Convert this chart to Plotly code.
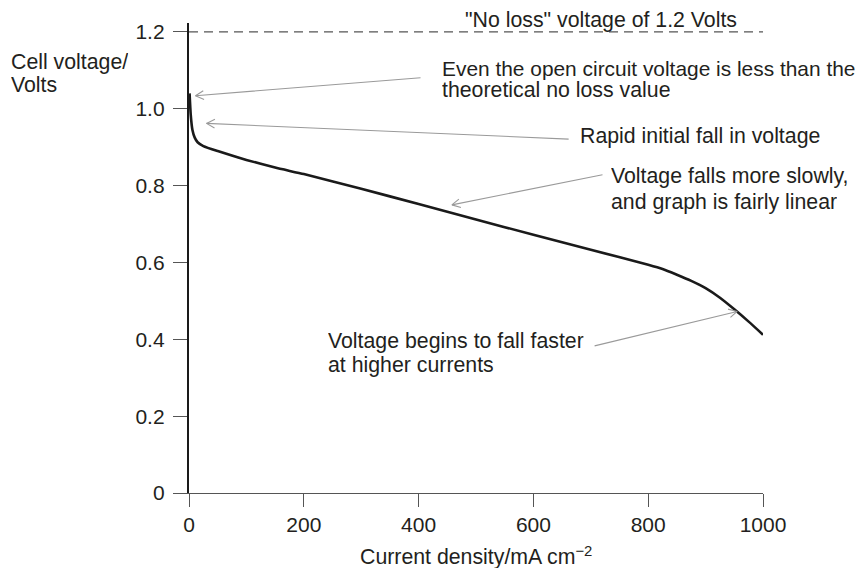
import math
import plotly.graph_objects as go

# ---------------- data ----------------
current_density = [1, 3, 6, 10, 15, 25, 50, 100, 150, 200, 300, 400, 500, 600, 700, 800,
                   825, 850, 875, 900, 925, 950, 975, 1000]
cell_voltage = [1.04, 0.985, 0.945, 0.925, 0.913, 0.903, 0.89, 0.867, 0.847, 0.830, 0.792, 0.752, 0.712,
                0.672, 0.633, 0.594, 0.583, 0.568, 0.552, 0.533, 0.508, 0.478, 0.446, 0.412]
no_loss_voltage = 1.2
x_ticks = [0, 200, 400, 600, 800, 1000]
y_ticks = [0, 0.2, 0.4, 0.6, 0.8, 1.0, 1.2]
y_ticklabels = ["0", "0.2", "0.4", "0.6", "0.8", "1.0", "1.2"]

# ---------------- layout geometry ----------------
# (page body has an 8px margin, so the figure is 8px smaller than the window)
W, H = 860, 561
ML, MR, MT, MB = 181, 105, 13, 76
X_RANGE = [0, 1000]
Y_RANGE = [0, 1.2233]
PX_X = (W - ML - MR) / (X_RANGE[1] - X_RANGE[0])
PX_Y = (H - MT - MB) / (Y_RANGE[1] - Y_RANGE[0])

FONT = "Liberation Sans, Arial, Helvetica, sans-serif"
TXT = "#231f20"
FS = 21.3
ARROW_C = "#9a9a9a"

fig = go.Figure()
fig.add_trace(go.Scatter(
    x=current_density, y=cell_voltage, mode="lines",
    line=dict(color="#1a1a1a", width=2.6, shape="spline", smoothing=0.5),
    hoverinfo="skip", showlegend=False, cliponaxis=False,
))

annotations = []


def xp(x):
    return (x - X_RANGE[0]) / (X_RANGE[1] - X_RANGE[0])


def yp(y):
    return (y - Y_RANGE[0]) / (Y_RANGE[1] - Y_RANGE[0])


def text(x, y, s, xanchor="left", size=FS):
    annotations.append(dict(x=xp(x), y=yp(y), xref="paper", yref="paper", text=s, showarrow=False,
                            xanchor=xanchor, yanchor="middle", height=24,
                            font=dict(family=FONT, size=size, color=TXT)))


def arrow(xt, yt, xs, ys):
    # shaft
    annotations.append(dict(x=xt, y=yt, ax=xs, ay=ys, xref="x", yref="y", axref="x", ayref="y",
                            text="", showarrow=True, arrowhead=0, arrowwidth=1.1,
                            arrowcolor=ARROW_C, standoff=0, startstandoff=0))
    # open chevron head
    dx = (xs - xt) * PX_X
    dy = -(ys - yt) * PX_Y
    n = math.hypot(dx, dy)
    ux, uy = dx / n, dy / n
    for ang in (28, -28):
        a = math.radians(ang)
        vx = ux * math.cos(a) - uy * math.sin(a)
        vy = ux * math.sin(a) + uy * math.cos(a)
        annotations.append(dict(x=xt, y=yt, xref="x", yref="y", ax=vx * 11, ay=vy * 11,
                                text="", showarrow=True, arrowhead=0, arrowwidth=1.1,
                                arrowcolor=ARROW_C, standoff=0, startstandoff=0))


# axis title (y) at top-left
text(-314, 1.123, "Cell voltage/")
text(-314, 1.063, "Volts")
# x axis title
text(500, -0.165, "Current density/mA cm<sup>\u22122</sup>", xanchor="center")

# no-loss label
text(717.8, 1.232, '"No loss" voltage of 1.2 Volts', xanchor="center")

# callouts
text(438, 1.105, "Even the open circuit voltage is less than the", size=20.9)
text(438, 1.048, "theoretical no loss value")
arrow(11.3, 1.034, 406, 1.081)

text(678, 0.929, "Rapid initial fall in voltage")
arrow(30.5, 0.962, 664, 0.921)

text(731, 0.825, "Voltage falls more slowly,")
text(731, 0.758, "and graph is fairly linear")
arrow(458, 0.750, 723, 0.829)

text(239, 0.3955, "Voltage begins to fall faster")
text(239, 0.3325, "at higher currents")
arrow(955, 0.4725, 704, 0.382)

fig.add_shape(type="line", xref="x", yref="y", x0=0, x1=1000, y0=no_loss_voltage, y1=no_loss_voltage,
              line=dict(color="#555555", width=1.3, dash="9px,6px"), layer="below")

fig.update_layout(
    width=W, height=H,
    margin=dict(l=ML, r=MR, t=MT, b=MB, pad=0),
    paper_bgcolor="white", plot_bgcolor="white",
    showlegend=False,
    font=dict(family=FONT, size=FS, color=TXT),
    annotations=annotations,
    xaxis=dict(range=X_RANGE, tickvals=x_ticks, ticktext=[str(v) for v in x_ticks],
               showgrid=False, zeroline=False, showline=True, linecolor="#555555", linewidth=1.4,
               ticks="outside", ticklen=13, tickwidth=1.4, tickcolor="#555555",
               tickfont=dict(family=FONT, size=21, color=TXT)),
    yaxis=dict(range=Y_RANGE, tickvals=y_ticks, ticktext=y_ticklabels,
               showgrid=False, zeroline=False, showline=True, linecolor="#1a1a1a", linewidth=2.4,
               ticks="outside", ticklen=14, tickwidth=1.4, tickcolor="#555555",
               ticklabelstandoff=4,
               tickfont=dict(family=FONT, size=21, color=TXT)),
)

fig.write_html("out.html")
